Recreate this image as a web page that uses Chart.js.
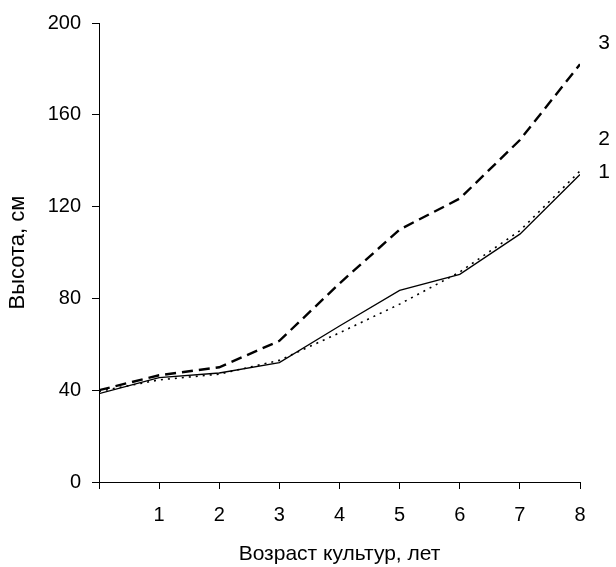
<!DOCTYPE html>
<html>
<head>
<meta charset="utf-8">
<script src="https://cdn.jsdelivr.net/npm/chart.js@4.4.1/dist/chart.umd.min.js"></script>
<style>
  html, body { margin: 0; padding: 0; background: #fff; }
  #wrap { width: 616px; height: 567px; }
</style>
</head>
<body>
<div id="wrap"><canvas id="heightChart" width="616" height="567"></canvas></div>
<script>
// возраст культур, лет
const ages = [0, 1, 2, 3, 4, 5, 6, 7, 8];

// высота, см
const series1 = [38.5, 45.5, 47.5, 52, 68, 83.5, 90.5, 108, 134];
const series2 = [39.5, 44.5, 47, 53, 65, 77.5, 91.5, 109.5, 135.5];
const series3 = [40, 46.5, 50, 61.5, 86.5, 110, 123.5, 149, 182];

const seriesNames = ['1', '2', '3'];
// where the series numbers sit at the right edge (in cm)
const nameLevels = [135, 149.5, 191];

const yTicks = [0, 40, 80, 120, 160, 200];

const FONT = '"Liberation Sans", Arial, sans-serif';

function toPoints(values) {
  return values.map((v, i) => ({ x: ages[i], y: v }));
}

// подписи номеров кривых справа
const endLabels = {
  id: 'endLabels',
  afterDraw(chart) {
    const ctx = chart.ctx;
    const xs = chart.scales.x;
    const ys = chart.scales.y;
    ctx.save();
    ctx.fillStyle = '#000';
    ctx.font = '21px ' + FONT;
    ctx.textAlign = 'center';
    ctx.textBaseline = 'middle';
    seriesNames.forEach((name, i) => {
      const px = xs.getPixelForValue(ages[ages.length - 1]) + 24;
      const py = ys.getPixelForValue(nameLevels[i]);
      ctx.fillText(name, px, py);
    });
    ctx.restore();
  }
};

const ctx = document.getElementById('heightChart');
new Chart(ctx.getContext('2d'), {
  type: 'line',
  data: {
    datasets: [
      {
        label: seriesNames[0],
        data: toPoints(series1),
        borderColor: '#000',
        borderWidth: 1.3,
        pointRadius: 0,
        tension: 0
      },
      {
        label: seriesNames[1],
        data: toPoints(series2),
        borderColor: '#000',
        borderWidth: 1.6,
        borderDash: [2, 5],
        pointRadius: 0,
        tension: 0
      },
      {
        label: seriesNames[2],
        data: toPoints(series3),
        borderColor: '#000',
        borderWidth: 2.4,
        borderDash: [11, 6],
        pointRadius: 0,
        tension: 0
      }
    ]
  },
  options: {
    responsive: false,
    animation: false,
    layout: { padding: { left: 0, right: 36, top: 22, bottom: 0 } },
    plugins: {
      legend: { display: false },
      tooltip: { enabled: false }
    },
    scales: {
      x: {
        type: 'linear',
        min: 0,
        max: 8,
        afterFit: (scale) => { scale.height = 85; },
        border: { color: '#000', width: 1 },
        grid: { drawOnChartArea: false, color: '#000', tickLength: 7 },
        ticks: {
          stepSize: 1,
          padding: 14,
          color: '#000',
          font: { family: FONT, size: 20 },
          callback: (v) => (v === 0 ? '' : String(v))
        },
        title: {
          display: true,
          text: 'Возраст культур, лет',
          color: '#000',
          font: { family: FONT, size: 21 },
          padding: { top: 4, bottom: 0 }
        }
      },
      y: {
        min: 0,
        max: 200,
        afterFit: (scale) => { scale.width = 99; },
        afterBuildTicks: (scale) => { scale.ticks = yTicks.map(v => ({ value: v })); },
        border: { color: '#000', width: 1 },
        grid: { drawOnChartArea: false, color: '#000', tickLength: 7 },
        ticks: {
          padding: 11,
          color: '#000',
          font: { family: FONT, size: 20 }
        },
        title: {
          display: true,
          text: 'Высота, см',
          color: '#000',
          font: { family: FONT, size: 22 },
          padding: { top: 5, bottom: 0 }
        }
      }
    }
  },
  plugins: [endLabels]
});
</script>
</body>
</html>
